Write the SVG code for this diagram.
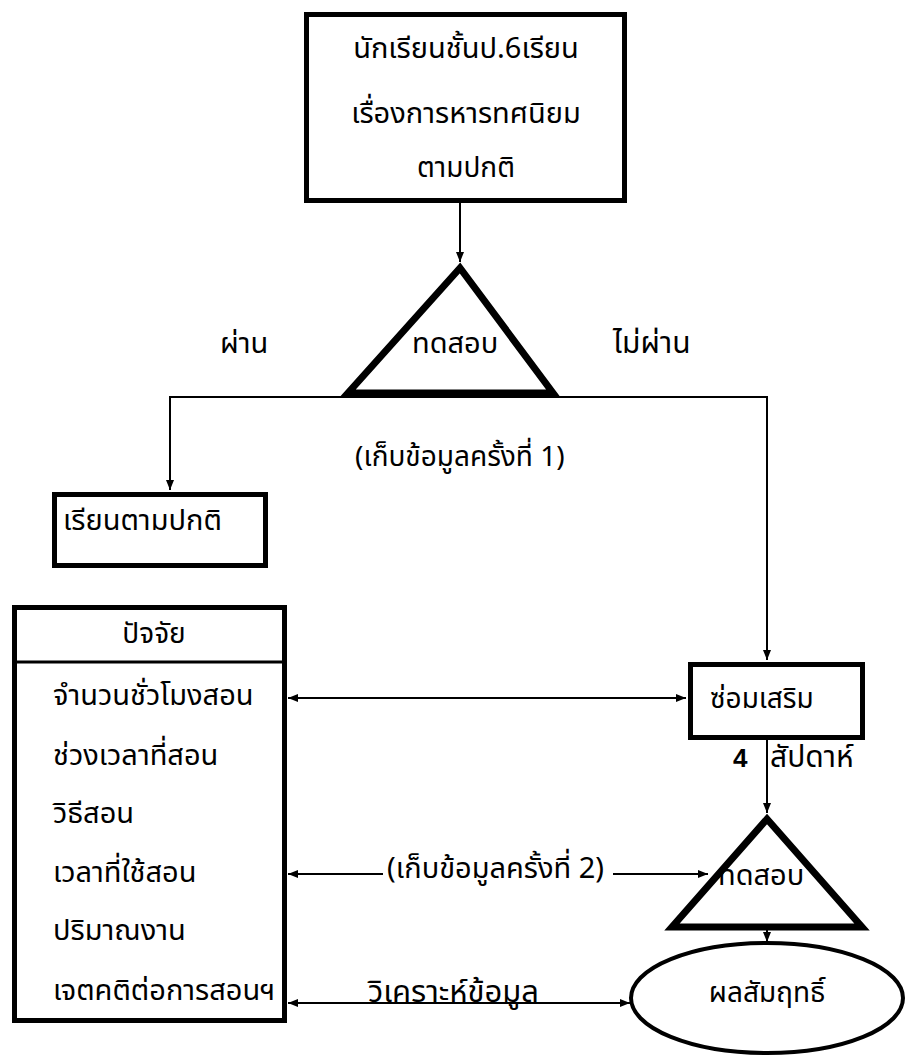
<svg xmlns="http://www.w3.org/2000/svg" width="917" height="1060" viewBox="0 0 917 1060">
<style>
text{font-family:"Noto Sans Thai","Noto Sans","DejaVu Sans",sans-serif;font-size:29px;fill:#000}
.box{fill:#fff;stroke:#000;stroke-width:5}
.tri{fill:#fff;stroke:#000;stroke-width:7;stroke-linejoin:miter}
.ln{fill:none;stroke:#000;stroke-width:2}
.c{text-anchor:middle}
</style>
<defs>
<marker id="ah" markerUnits="userSpaceOnUse" markerWidth="10" markerHeight="10" viewBox="0 0 10 10" refX="10" refY="5" orient="auto-start-reverse">
<path d="M0,1 L10,5 L0,9 z" fill="#000"/>
</marker>
</defs>
<rect width="917" height="1060" fill="#fff"/>
<g id="connectors">
<line class="ln" x1="460" y1="203" x2="460" y2="262" marker-end="url(#ah)"/>
<polyline class="ln" points="170,490 170,397 767,397 767,660" marker-start="url(#ah)" marker-end="url(#ah)"/>
<line class="ln" x1="288" y1="698" x2="686" y2="698" marker-start="url(#ah)" marker-end="url(#ah)"/>
<line class="ln" x1="767" y1="740" x2="767" y2="813" marker-end="url(#ah)"/>
<line class="ln" x1="288" y1="874" x2="383" y2="874" marker-start="url(#ah)"/>
<line class="ln" x1="613" y1="874" x2="708" y2="874" marker-end="url(#ah)"/>
<line class="ln" x1="767" y1="930" x2="767" y2="942" marker-end="url(#ah)"/>
<line class="ln" x1="288" y1="1003" x2="630" y2="1003" marker-start="url(#ah)" marker-end="url(#ah)"/>
<text x="387" y="878">(เก็บข้อมูลครั้งที่ 2)</text>
<text x="368" y="1002" style="font-size:31px">วิเคราะห์ข้อมูล</text>
<text x="355" y="466" style="font-size:28px">(เก็บข้อมูลครั้งที่ 1)</text>
<text x="220" y="353">ผ่าน</text>
<text x="613" y="353" style="font-size:30px">ไม่ผ่าน</text>
<text x="733" y="767" style="font-family:'Liberation Sans',sans-serif;font-weight:bold;font-size:26px">4</text>
<text x="770" y="767" style="font-size:30px">สัปดาห์</text>
</g>
<g id="n-start">
<rect class="box" x="306.5" y="14.5" width="318" height="186"/>
<text class="c" x="466" y="58">นักเรียนชั้นป.6เรียน</text>
<text class="c" x="466" y="123">เรื่องการหารทศนิยม</text>
<text class="c" x="466" y="177" style="font-size:28px">ตามปกติ</text>
</g>
<g id="n-test1">
<polygon class="tri" points="460,268 348,393 553,393"/>
<text x="412" y="353">ทดสอบ</text>
</g>
<g id="n-normal">
<rect class="box" x="54.5" y="494.5" width="211" height="71"/>
<text x="63" y="530">เรียนตามปกติ</text>
</g>
<g id="n-factors">
<rect class="box" x="14.5" y="607.5" width="270" height="413"/>
<line x1="14" y1="662" x2="285" y2="662" stroke="#000" stroke-width="3"/>
<text class="c" x="154" y="643" style="font-size:28px">ปัจจัย</text>
<text x="53" y="705">จำนวนชั่วโมงสอน</text>
<text x="53" y="765">ช่วงเวลาที่สอน</text>
<text x="53" y="823">วิธีสอน</text>
<text x="53" y="882">เวลาที่ใช้สอน</text>
<text x="53" y="940">ปริมาณงาน</text>
<text x="53" y="1000">เจตคติต่อการสอนฯ</text>
</g>
<g id="n-remedial">
<rect class="box" x="690.5" y="664.5" width="172" height="73"/>
<text x="710" y="708" style="font-size:28px">ซ่อมเสริม</text>
</g>
<g id="n-test2">
<polygon class="tri" points="767,819 672,927 862,927"/>
<text x="718" y="885">ทดสอบ</text>
</g>
<g id="n-result">
<ellipse cx="767" cy="998" rx="136" ry="55" fill="#fff" stroke="#000" stroke-width="4"/>
<text class="c" x="767" y="1002" style="font-size:28px">ผลสัมฤทธิ์</text>
</g>
</svg>
